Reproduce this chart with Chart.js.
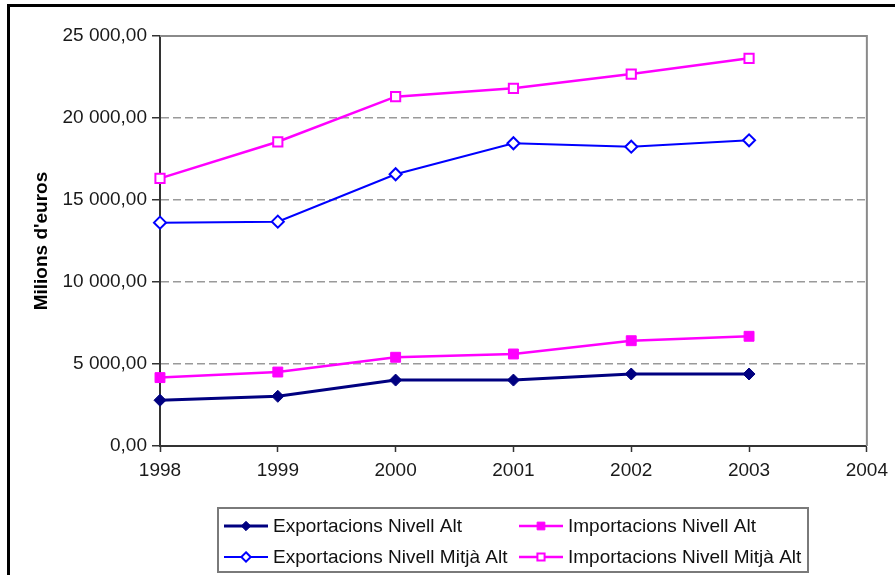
<!DOCTYPE html>
<html>
<head>
<meta charset="utf-8">
<script src="https://cdn.jsdelivr.net/npm/chart.js@4.4.0/dist/chart.umd.min.js"></script>
<style>
  html, body { margin: 0; padding: 0; background: #fff; }
  #wrap { width: 895px; height: 575px; position: relative; }
</style>
</head>
<body>
<div id="wrap"><canvas id="c" width="895" height="575"></canvas></div>
<script>
// Years on the horizontal axis
const years = [1998, 1999, 2000, 2001, 2002, 2003];

// Millions of euros per series
const exportsHigh    = [2790, 3030, 4020, 4020, 4390, 4390];
const importsHigh    = [4170, 4510, 5410, 5610, 6420, 6690];
const exportsMidHigh = [13620, 13680, 16570, 18460, 18250, 18640];
const importsMidHigh = [16320, 18550, 21300, 21810, 22680, 23640];

const seriesNames = [
  'Exportacions Nivell Alt',
  'Importacions Nivell Alt',
  'Exportacions Nivell Mitjà Alt',
  'Importacions Nivell Mitjà Alt'
];
const yTicks = [0, 5000, 10000, 15000, 20000, 25000];
const yTitle = "Milions d'euros";

const FONT = "'Liberation Sans', Arial, sans-serif";

function toPoints(vals) {
  return vals.map((v, i) => ({ x: years[i], y: v }));
}

// "25 000,00" style numbers
function fmtEuro(v) {
  const s = Math.round(v).toString().replace(/\B(?=(\d{3})+(?!\d))/g, ' ');
  return s + ',00';
}

function drawMarker(ctx, style, r, x, y, fill, stroke, bw) {
  ctx.save();
  ctx.beginPath();
  if (style === 'rectRot') {
    ctx.moveTo(x, y - r);
    ctx.lineTo(x + r, y);
    ctx.lineTo(x, y + r);
    ctx.lineTo(x - r, y);
    ctx.closePath();
  } else {
    const h = r * Math.SQRT1_2;
    ctx.rect(x - h, y - h, 2 * h, 2 * h);
  }
  ctx.fillStyle = fill;
  ctx.fill();
  ctx.lineWidth = bw;
  ctx.strokeStyle = stroke;
  ctx.stroke();
  ctx.restore();
}

// Outer frame, plot-area box and the two-column legend
const decorations = {
  id: 'decorations',
  beforeDatasetsDraw(chart) {
    const { ctx, chartArea: a } = chart;
    ctx.save();
    ctx.strokeStyle = '#8a8a8a';
    ctx.lineWidth = 2;
    ctx.beginPath();
    ctx.moveTo(a.left, a.top);
    ctx.lineTo(a.right, a.top);
    ctx.lineTo(a.right, a.bottom);
    ctx.stroke();
    ctx.restore();
  },
  afterDraw(chart) {
    const ctx = chart.ctx;
    ctx.save();
    // outer frame (runs off the right and bottom edges)
    ctx.strokeStyle = '#000';
    ctx.lineWidth = 3;
    ctx.beginPath();
    ctx.moveTo(8.5, 600);
    ctx.lineTo(8.5, 5.5);
    ctx.lineTo(900, 5.5);
    ctx.stroke();

    // legend box
    ctx.strokeStyle = '#7a7a7a';
    ctx.lineWidth = 2;
    ctx.strokeRect(218, 508, 590, 64);

    const cols = [224, 519];
    const rows = [526, 557];
    ctx.font = '19px ' + FONT;
    ctx.textBaseline = 'middle';
    chart.data.datasets.forEach((ds, k) => {
      const x0 = cols[k % 2];
      const y = rows[Math.floor(k / 2)];
      ctx.strokeStyle = ds.borderColor;
      ctx.lineWidth = ds.borderWidth;
      ctx.beginPath();
      ctx.moveTo(x0, y);
      ctx.lineTo(x0 + 44, y);
      ctx.stroke();
      drawMarker(ctx, ds.pointStyle, ds.pointRadius * 0.78, x0 + 22, y,
        ds.pointBackgroundColor, ds.pointBorderColor, ds.pointBorderWidth);
      ctx.fillStyle = '#111';
      ctx.fillText(ds.label, x0 + 49, y + 1);
    });
    ctx.restore();
  }
};

const chart = new Chart(document.getElementById('c'), {
  type: 'line',
  data: {
    datasets: [
      {
        label: seriesNames[0], data: toPoints(exportsHigh),
        borderColor: '#000080', borderWidth: 3,
        pointStyle: 'rectRot', pointRadius: 6,
        pointBackgroundColor: '#000080', pointBorderColor: '#000080', pointBorderWidth: 1,
        clip: false
      },
      {
        label: seriesNames[1], data: toPoints(importsHigh),
        borderColor: '#FF00FF', borderWidth: 2.5,
        pointStyle: 'rect', pointRadius: 7,
        pointBackgroundColor: '#FF00FF', pointBorderColor: '#FF00FF', pointBorderWidth: 1,
        clip: false
      },
      {
        label: seriesNames[2], data: toPoints(exportsMidHigh),
        borderColor: '#0000FF', borderWidth: 2,
        pointStyle: 'rectRot', pointRadius: 6,
        pointBackgroundColor: '#FFFFFF', pointBorderColor: '#0000FF', pointBorderWidth: 2,
        clip: false
      },
      {
        label: seriesNames[3], data: toPoints(importsMidHigh),
        borderColor: '#FF00FF', borderWidth: 2.5,
        pointStyle: 'rect', pointRadius: 6.5,
        pointBackgroundColor: '#FFFFFF', pointBorderColor: '#FF00FF', pointBorderWidth: 2,
        clip: false
      }
    ]
  },
  options: {
    responsive: false,
    animation: false,
    devicePixelRatio: 1,
    layout: { padding: { left: 0, top: 36, right: 27, bottom: 0 } },
    elements: { line: { tension: 0 } },
    plugins: { legend: { display: false }, tooltip: { enabled: false } },
    scales: {
      x: {
        type: 'linear', min: 1998, max: 2004,
        ticks: {
          stepSize: 1, autoSkip: false, maxRotation: 0,
          callback: v => String(v),
          color: '#1a1a1a', font: { family: FONT, size: 19 }, padding: 7
        },
        grid: { drawOnChartArea: false, drawTicks: true, tickLength: 6, tickColor: '#333', tickWidth: 1.5 },
        border: { color: '#333', width: 2 },
        afterFit: s => { s.height = 129; }
      },
      y: {
        min: 0, max: 25000,
        afterBuildTicks: s => { s.ticks = yTicks.map(v => ({ value: v })); },
        ticks: {
          callback: v => fmtEuro(v),
          color: '#1a1a1a', font: { family: FONT, size: 19 }, padding: 5
        },
        grid: {
          color: c => (c.tick && (c.tick.value === 0 || c.tick.value === 25000)) ? 'rgba(0,0,0,0)' : '#9a9a9a',
          lineWidth: 1.5, drawTicks: true, tickLength: 8, tickColor: '#333', tickWidth: 1.5
        },
        border: { color: '#333', width: 2, dash: [8, 4] },
        title: {
          display: true, text: yTitle, color: '#000',
          font: { family: FONT, size: 19, weight: 'bold' },
          padding: { top: 30, bottom: 0 }
        },
        afterFit: s => { s.width = 160; }
      }
    }
  },
  plugins: [decorations]
});
</script>
</body>
</html>
